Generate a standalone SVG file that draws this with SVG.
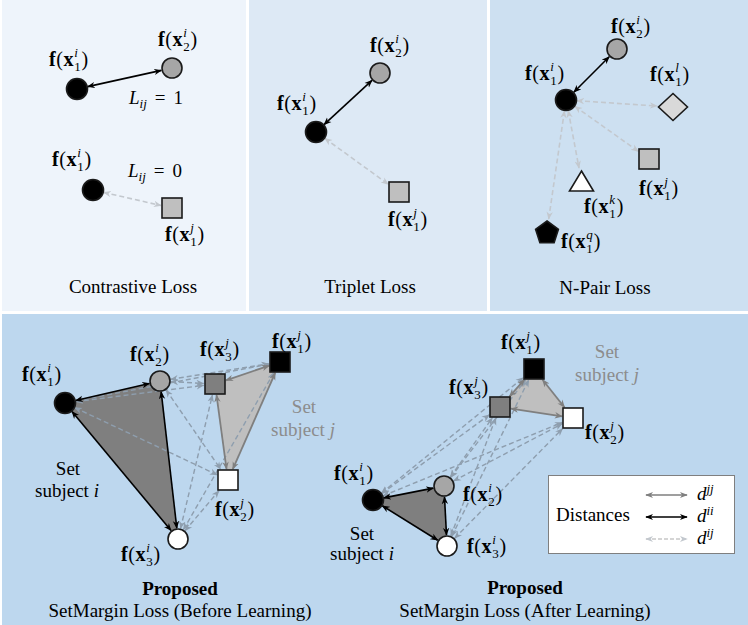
<svg xmlns="http://www.w3.org/2000/svg" width="748" height="625" viewBox="0 0 748 625">
<defs>
<style>
text{font-family:"Liberation Serif","Times New Roman",serif;font-size:19px;fill:#000}
.lb{font-size:20px;letter-spacing:0.6px}
.b{font-weight:bold}
.s{font-size:13px}
.si{font-size:13px;font-style:italic}
.it{font-style:italic}
.cap{text-anchor:middle}
.gt{fill:#8C8C8C;text-anchor:middle}
.st{text-anchor:middle}
.nd{stroke:#1a1a1a;stroke-width:1.6}
.ck{fill:none;stroke:#000;stroke-width:1.6;marker-start:url(#mk);marker-end:url(#mk)}
.cg{fill:none;stroke:#7F7F7F;stroke-width:1.8;marker-start:url(#mg);marker-end:url(#mg)}
.cl{fill:none;stroke:#C3C8CE;stroke-width:1.6;stroke-dasharray:5 3;marker-start:url(#ml);marker-end:url(#ml)}
.cd{fill:none;stroke:#8E9EAE;stroke-width:1.4;stroke-dasharray:5 3;marker-start:url(#md);marker-end:url(#md)}
</style>
<marker id="mk" viewBox="0 0 10 10" refX="9" refY="5" markerWidth="8" markerHeight="8" markerUnits="userSpaceOnUse" orient="auto-start-reverse"><path d="M0,1 L10,5 L0,9 L3,5 z" fill="#000"/></marker>
<marker id="mg" viewBox="0 0 10 10" refX="9" refY="5" markerWidth="8" markerHeight="8" markerUnits="userSpaceOnUse" orient="auto-start-reverse"><path d="M0,1 L10,5 L0,9 L3,5 z" fill="#7F7F7F"/></marker>
<marker id="ml" viewBox="0 0 10 10" refX="9" refY="5" markerWidth="8" markerHeight="8" markerUnits="userSpaceOnUse" orient="auto-start-reverse"><path d="M0,1 L10,5 L0,9 L3,5 z" fill="#C3C8CE"/></marker>
<marker id="md" viewBox="0 0 10 10" refX="9" refY="5" markerWidth="8" markerHeight="8" markerUnits="userSpaceOnUse" orient="auto-start-reverse"><path d="M0,1 L10,5 L0,9 L3,5 z" fill="#8E9EAE"/></marker>
</defs>
<rect width="748" height="625" fill="#fff"/>
<g id="panels">
<rect x="2" y="0" width="244" height="311" fill="#EEF4FB"/>
<rect x="249" y="0" width="238" height="311" fill="#DDE9F5"/>
<rect x="490" y="0" width="258" height="311" fill="#CDE0F1"/>
<rect x="2" y="314" width="746" height="311" fill="#BDD7EE"/>
</g>
<g id="regions">
<polygon points="65,403 160,381 178,539" fill="#7F7F7F"/>
<polygon points="215,384 280,362 228,480" fill="#BFBFBF"/>
<polygon points="373,500 444,486 447,546" fill="#7F7F7F"/>
<polygon points="534,369 500,407 573,418" fill="#BFBFBF"/>
</g>
<g id="connectors">
<line class="ck" x1="87.7" y1="86.6" x2="161.3" y2="70.4"/>
<line class="cl" x1="103.7" y1="192.4" x2="161" y2="205.5"/>
<line class="ck" x1="324" y1="124.6" x2="372" y2="80.4"/>
<line class="cl" x1="324.9" y1="138.4" x2="388.2" y2="184.2"/>
<line class="ck" x1="573.8" y1="92.2" x2="609.2" y2="56.8"/>
<line class="cl" x1="577" y1="100.7" x2="657" y2="106"/>
<line class="cl" x1="575" y1="106.4" x2="638.2" y2="151.3"/>
<line class="cl" x1="568.3" y1="110.8" x2="579" y2="168"/>
<line class="cl" x1="564.4" y1="111" x2="548.7" y2="219"/>
<line class="cd" x1="75.9" y1="401.6" x2="203.6" y2="385.4"/>
<line class="cd" x1="75.8" y1="400.9" x2="269" y2="364.1"/>
<line class="cd" x1="74.9" y1="407.7" x2="217.1" y2="474.8"/>
<line class="cd" x1="171" y1="381.6" x2="203.5" y2="383.4"/>
<line class="cd" x1="170.9" y1="379.3" x2="268.6" y2="363.8"/>
<line class="cd" x1="166.2" y1="390.1" x2="220.6" y2="469.2"/>
<line class="cd" x1="180.6" y1="528.3" x2="212.4" y2="395"/>
<line class="cd" x1="183.5" y1="529.5" x2="273.8" y2="372.8"/>
<line class="cd" x1="185.1" y1="530.6" x2="218.9" y2="490.8"/>
<line class="ck" x1="75.7" y1="400.5" x2="149.3" y2="383.5"/>
<line class="ck" x1="161.2" y1="391.9" x2="176.8" y2="528.1"/>
<line class="ck" x1="72" y1="411.5" x2="171" y2="530.5"/>
<line class="cg" x1="225.9" y1="380.3" x2="269.1" y2="365.7"/>
<line class="cg" x1="216.5" y1="395" x2="226.5" y2="469"/>
<line class="cg" x1="275.2" y1="372.9" x2="232.8" y2="469.1"/>
<line class="cd" x1="381.5" y1="493.1" x2="523.2" y2="377.8"/>
<line class="cd" x1="381.9" y1="493.5" x2="489.2" y2="414.9"/>
<line class="cd" x1="383.2" y1="495.8" x2="562.1" y2="422.5"/>
<line class="cd" x1="450.7" y1="477.3" x2="525.7" y2="379.8"/>
<line class="cd" x1="450.4" y1="477" x2="492.3" y2="417.9"/>
<line class="cd" x1="453.7" y1="480.9" x2="562.1" y2="423.7"/>
<line class="cd" x1="451.9" y1="536.1" x2="528.7" y2="379.9"/>
<line class="cd" x1="450.9" y1="535.7" x2="495.8" y2="417.9"/>
<line class="cd" x1="454.7" y1="538.2" x2="562.5" y2="428.7"/>
<line class="ck" x1="383.8" y1="497.9" x2="433.2" y2="488.1"/>
<line class="ck" x1="444.5" y1="497" x2="446.5" y2="535"/>
<line class="ck" x1="382.3" y1="505.8" x2="437.7" y2="540.2"/>
<line class="cg" x1="524.4" y1="379.7" x2="509.6" y2="396.3"/>
<line class="cg" x1="542.6" y1="379.8" x2="564.4" y2="407.2"/>
<line class="cg" x1="511" y1="408.6" x2="562" y2="416.3"/>
</g>
<!-- Contrastive -->
<g id="c-x1i-a"><circle class="nd" cx="77" cy="89" r="10.5" fill="#000"/>
<text class="lb" x="49" y="66"><tspan class="b">f</tspan>(<tspan class="b">x</tspan><tspan class="s" dy="5">1</tspan><tspan class="si" dx="-7" dy="-14">i</tspan><tspan dx="3" dy="9">)</tspan></text></g>
<g id="c-x2i"><circle class="nd" cx="172" cy="68" r="10" fill="#A6A6A6"/>
<text class="lb" x="158" y="46"><tspan class="b">f</tspan>(<tspan class="b">x</tspan><tspan class="s" dy="5">2</tspan><tspan class="si" dx="-7" dy="-14">i</tspan><tspan dx="3" dy="9">)</tspan></text></g>
<text class="it" x="129" y="104">L<tspan class="si" dy="4">ij</tspan><tspan font-style="normal" dx="8" dy="-4">=</tspan><tspan font-style="normal" dx="8">1</tspan></text>
<g id="c-x1i-b"><circle class="nd" cx="93" cy="190" r="10.5" fill="#000"/>
<text class="lb" x="52" y="166"><tspan class="b">f</tspan>(<tspan class="b">x</tspan><tspan class="s" dy="5">1</tspan><tspan class="si" dx="-7" dy="-14">i</tspan><tspan dx="3" dy="9">)</tspan></text></g>
<text class="it" x="128" y="177">L<tspan class="si" dy="4">ij</tspan><tspan font-style="normal" dx="8" dy="-4">=</tspan><tspan font-style="normal" dx="8">0</tspan></text>
<g id="c-x1j"><rect class="nd" x="162" y="198" width="20" height="20" fill="#BFBFBF"/>
<text class="lb" x="165" y="241"><tspan class="b">f</tspan>(<tspan class="b">x</tspan><tspan class="s" dy="5">1</tspan><tspan class="si" dx="-7" dy="-14">j</tspan><tspan dx="3" dy="9">)</tspan></text></g>
<text class="cap" x="133" y="293">Contrastive Loss</text>
<!-- Triplet -->
<g id="t-x2i"><circle class="nd" cx="380" cy="73" r="10" fill="#A6A6A6"/>
<text class="lb" x="370" y="52"><tspan class="b">f</tspan>(<tspan class="b">x</tspan><tspan class="s" dy="5">2</tspan><tspan class="si" dx="-7" dy="-14">i</tspan><tspan dx="3" dy="9">)</tspan></text></g>
<g id="t-x1i"><circle class="nd" cx="316" cy="132" r="10.5" fill="#000"/>
<text class="lb" x="277" y="110"><tspan class="b">f</tspan>(<tspan class="b">x</tspan><tspan class="s" dy="5">1</tspan><tspan class="si" dx="-7" dy="-14">i</tspan><tspan dx="3" dy="9">)</tspan></text></g>
<g id="t-x1j"><rect class="nd" x="389" y="182" width="20" height="20" fill="#BFBFBF"/>
<text class="lb" x="388" y="226"><tspan class="b">f</tspan>(<tspan class="b">x</tspan><tspan class="s" dy="5">1</tspan><tspan class="si" dx="-7" dy="-14">j</tspan><tspan dx="3" dy="9">)</tspan></text></g>
<text class="cap" x="370" y="293">Triplet Loss</text>
<!-- N-pair -->
<g id="n-x2i"><circle class="nd" cx="617" cy="49" r="10" fill="#A6A6A6"/>
<text class="lb" x="611" y="33"><tspan class="b">f</tspan>(<tspan class="b">x</tspan><tspan class="s" dy="5">2</tspan><tspan class="si" dx="-7" dy="-14">i</tspan><tspan dx="3" dy="9">)</tspan></text></g>
<g id="n-x1i"><circle class="nd" cx="566" cy="100" r="10.5" fill="#000"/>
<text class="lb" x="525" y="80"><tspan class="b">f</tspan>(<tspan class="b">x</tspan><tspan class="s" dy="5">1</tspan><tspan class="si" dx="-7" dy="-14">i</tspan><tspan dx="3" dy="9">)</tspan></text></g>
<g id="n-x1l"><polygon class="nd" points="673,93.5 687.5,107 673,120.5 658.5,107" fill="#D9D9D9"/>
<text class="lb" x="650" y="81"><tspan class="b">f</tspan>(<tspan class="b">x</tspan><tspan class="s" dy="5">1</tspan><tspan class="si" dx="-7" dy="-14">l</tspan><tspan dx="3" dy="9">)</tspan></text></g>
<g id="n-x1j"><rect class="nd" x="639" y="149" width="20" height="20" fill="#BFBFBF"/>
<text class="lb" x="639" y="195"><tspan class="b">f</tspan>(<tspan class="b">x</tspan><tspan class="s" dy="5">1</tspan><tspan class="si" dx="-7" dy="-14">j</tspan><tspan dx="3" dy="9">)</tspan></text></g>
<g id="n-x1k"><polygon class="nd" points="581.5,171 593.5,191 569.5,191" fill="#fff"/>
<text class="lb" x="584" y="213"><tspan class="b">f</tspan>(<tspan class="b">x</tspan><tspan class="s" dy="5">1</tspan><tspan class="si" dx="-7" dy="-14">k</tspan><tspan dx="1" dy="9">)</tspan></text></g>
<g id="n-x1q"><polygon class="nd" points="547,221 558.4,229.3 554.1,242.7 539.9,242.7 535.6,229.3" fill="#000"/>
<text class="lb" x="561" y="248"><tspan class="b">f</tspan>(<tspan class="b">x</tspan><tspan class="s" dy="5">1</tspan><tspan class="si" dx="-7" dy="-14">q</tspan><tspan dx="0.5" dy="9">)</tspan></text></g>
<text class="cap" x="605" y="294">N-Pair Loss</text>
<!-- SetMargin before -->
<g id="b-x1i"><circle class="nd" cx="65" cy="403" r="10.5" fill="#000"/>
<text class="lb" x="22" y="381"><tspan class="b">f</tspan>(<tspan class="b">x</tspan><tspan class="s" dy="5">1</tspan><tspan class="si" dx="-7" dy="-14">i</tspan><tspan dx="3" dy="9">)</tspan></text></g>
<g id="b-x2i"><circle class="nd" cx="160" cy="381" r="10" fill="#A6A6A6"/>
<text class="lb" x="130" y="361"><tspan class="b">f</tspan>(<tspan class="b">x</tspan><tspan class="s" dy="5">2</tspan><tspan class="si" dx="-7" dy="-14">i</tspan><tspan dx="3" dy="9">)</tspan></text></g>
<g id="b-x3i"><circle class="nd" cx="178" cy="539" r="10" fill="#fff"/>
<text class="lb" x="121" y="561"><tspan class="b">f</tspan>(<tspan class="b">x</tspan><tspan class="s" dy="5">3</tspan><tspan class="si" dx="-7" dy="-14">i</tspan><tspan dx="3" dy="9">)</tspan></text></g>
<g id="b-x3j"><rect class="nd" x="205" y="374" width="20" height="20" fill="#7F7F7F"/>
<text class="lb" x="200" y="356"><tspan class="b">f</tspan>(<tspan class="b">x</tspan><tspan class="s" dy="5">3</tspan><tspan class="si" dx="-7" dy="-14">j</tspan><tspan dx="3" dy="9">)</tspan></text></g>
<g id="b-x1j"><rect class="nd" x="270" y="352" width="20" height="20" fill="#000"/>
<text class="lb" x="272" y="348"><tspan class="b">f</tspan>(<tspan class="b">x</tspan><tspan class="s" dy="5">1</tspan><tspan class="si" dx="-7" dy="-14">j</tspan><tspan dx="3" dy="9">)</tspan></text></g>
<g id="b-x2j"><rect class="nd" x="218" y="470" width="20" height="20" fill="#fff"/>
<text class="lb" x="215" y="516"><tspan class="b">f</tspan>(<tspan class="b">x</tspan><tspan class="s" dy="5">2</tspan><tspan class="si" dx="-7" dy="-14">j</tspan><tspan dx="3" dy="9">)</tspan></text></g>
<text class="st" x="68" y="475">Set</text>
<text class="st" x="67" y="497">subject <tspan class="it">i</tspan></text>
<text class="gt" x="304" y="413">Set</text>
<text class="gt" x="303" y="436">subject <tspan class="it">j</tspan></text>
<text class="cap b" x="180" y="595">Proposed</text>
<text class="cap" x="180" y="617">SetMargin Loss (Before Learning)</text>
<!-- SetMargin after -->
<g id="a-x1j"><rect class="nd" x="524" y="359" width="20" height="20" fill="#000"/>
<text class="lb" x="501" y="349"><tspan class="b">f</tspan>(<tspan class="b">x</tspan><tspan class="s" dy="5">1</tspan><tspan class="si" dx="-7" dy="-14">j</tspan><tspan dx="3" dy="9">)</tspan></text></g>
<g id="a-x3j"><rect class="nd" x="490" y="397" width="20" height="20" fill="#7F7F7F"/>
<text class="lb" x="449" y="394"><tspan class="b">f</tspan>(<tspan class="b">x</tspan><tspan class="s" dy="5">3</tspan><tspan class="si" dx="-7" dy="-14">j</tspan><tspan dx="3" dy="9">)</tspan></text></g>
<g id="a-x2j"><rect class="nd" x="563" y="408" width="20" height="20" fill="#fff"/>
<text class="lb" x="585" y="439"><tspan class="b">f</tspan>(<tspan class="b">x</tspan><tspan class="s" dy="5">2</tspan><tspan class="si" dx="-7" dy="-14">j</tspan><tspan dx="3" dy="9">)</tspan></text></g>
<g id="a-x1i"><circle class="nd" cx="373" cy="500" r="10.5" fill="#000"/>
<text class="lb" x="334" y="480"><tspan class="b">f</tspan>(<tspan class="b">x</tspan><tspan class="s" dy="5">1</tspan><tspan class="si" dx="-7" dy="-14">i</tspan><tspan dx="3" dy="9">)</tspan></text></g>
<g id="a-x2i"><circle class="nd" cx="444" cy="486" r="10" fill="#A6A6A6"/>
<text class="lb" x="463" y="501"><tspan class="b">f</tspan>(<tspan class="b">x</tspan><tspan class="s" dy="5">2</tspan><tspan class="si" dx="-7" dy="-14">i</tspan><tspan dx="3" dy="9">)</tspan></text></g>
<g id="a-x3i"><circle class="nd" cx="447" cy="546" r="10" fill="#fff"/>
<text class="lb" x="467" y="553"><tspan class="b">f</tspan>(<tspan class="b">x</tspan><tspan class="s" dy="5">3</tspan><tspan class="si" dx="-7" dy="-14">i</tspan><tspan dx="3" dy="9">)</tspan></text></g>
<text class="st" x="362" y="540">Set</text>
<text class="st" x="362" y="560">subject <tspan class="it">i</tspan></text>
<text class="gt" x="607" y="358">Set</text>
<text class="gt" x="607" y="381">subject <tspan class="it">j</tspan></text>
<text class="cap b" x="525" y="594">Proposed</text>
<text class="cap" x="525" y="617">SetMargin Loss (After Learning)</text>
<!-- legend -->
<g id="legend">
<rect x="548.5" y="475.5" width="186" height="78" fill="#fff" stroke="#7F7F7F" stroke-width="1"/>
<text x="556" y="521">Distances</text>
<line x1="646" y1="495" x2="687" y2="495" stroke="#7F7F7F" stroke-width="1.3" marker-start="url(#mg)" marker-end="url(#mg)"/>
<line x1="646" y1="517" x2="687" y2="517" stroke="#000" stroke-width="1.6" marker-start="url(#mk)" marker-end="url(#mk)"/>
<line x1="646" y1="539" x2="687" y2="539" stroke="#C8C8C8" stroke-width="1.3" stroke-dasharray="4 2" marker-start="url(#ml)" marker-end="url(#ml)"/>
<text class="it" x="697" y="500">d<tspan class="si" dy="-7">jj</tspan></text>
<text class="it" x="697" y="522">d<tspan class="si" dy="-7">ii</tspan></text>
<text class="it" x="697" y="544">d<tspan class="si" dy="-7">ij</tspan></text>
</g>
</svg>
